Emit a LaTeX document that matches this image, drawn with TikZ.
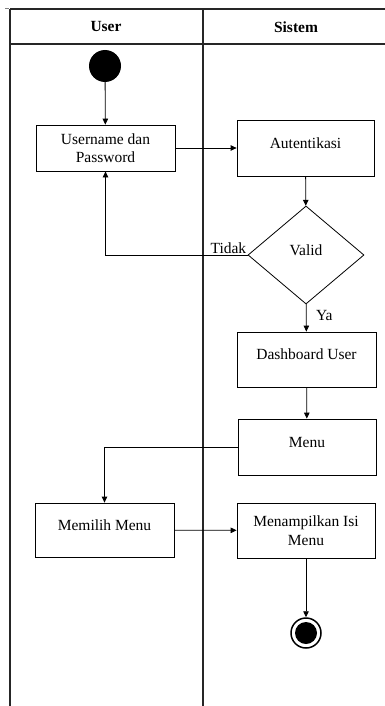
\documentclass[tikz,border=0pt]{standalone}
\usepackage{fontspec}
\setmainfont{Liberation Serif}
\usetikzlibrary{arrows.meta, shapes.geometric}

\begin{document}
\begin{tikzpicture}[x=1pt, y=-1pt,
    lane/.style={line width=1.3pt, black!85},
    head/.style={font=\fontsize{15.5}{18.5}\selectfont\bfseries},
    lbl/.style={font=\fontsize{15.5}{18.5}\selectfont},
    act/.style={draw, line width=0.8pt, minimum width=139pt, minimum height=55pt,
      align=center, inner sep=2pt, font=\fontsize{15.5}{18.5}\selectfont},
    oneline/.style={text height=11pt, text depth=11pt},
    flow/.style={line width=0.8pt, -{Triangle[length=6pt, width=5.5pt]}}]
  \useasboundingbox (0,0) rectangle (385,706);
  % Swimlanes
  \draw[lane] (10,9) -- (385,9);
  \draw[lane] (10,44) -- (385,44);
  \draw[lane] (10,9) -- (10,706);
  \draw[lane] (203,9) -- (203,706);
  \draw[gray, thin] (5,8.5) -- (9,8.5);
  \node[head] (hUser) at (106,27) {User};
  \node[head] (hSistem) at (296,27) {Sistem};
  % Start and end
  \node[circle, fill, minimum size=32pt, inner sep=0] (start) at (105,66) {};
  \node[circle, draw, line width=1.5pt, minimum size=30pt, inner sep=0] (stop) at (306,633) {};
  \fill (stop.center) circle (11pt);
  % Activities
  \node[act, minimum height=46pt] (user) at (105.5,148) {Username dan\\Password};
  \node[act, oneline, minimum width=137pt, minimum height=56pt] (auth) at (305.5,148) {Autentikasi};
  \node[draw, diamond, aspect=1.18, minimum width=116pt, minimum height=98pt,
    inner sep=0, line width=0.8pt, lbl, text height=11pt, text depth=11pt] (valid) at (306,255) {Valid};
  \node[act, oneline] (dash) at (306.5,359.5) {Dashboard User};
  \node[act, oneline, minimum width=138pt, minimum height=56pt] (menu) at (307,447) {Menu};
  \node[act, oneline, minimum height=54pt] (pick) at (104.5,530) {Memilih Menu};
  \node[act, minimum width=138pt] (show) at (306,530.5) {Menampilkan Isi\\Menu};
  % Flow
  \draw[flow] (start) -- (user);
  \draw[flow] (user) -- (auth);
  \draw[flow] (auth) -- (valid);
  \draw[flow] (valid.west) node[lbl, above left, inner sep=1pt] {Tidak} -| (user.south);
  \draw[flow] (valid) -- node[lbl, right=6pt, pos=0.42] {Ya} (dash);
  \draw[flow] (dash) -- (menu);
  \draw[flow] (menu.west) -| (pick.north);
  \draw[flow] (pick) -- (show);
  \draw[flow] (show) -- (stop);
\end{tikzpicture}
\end{document}
